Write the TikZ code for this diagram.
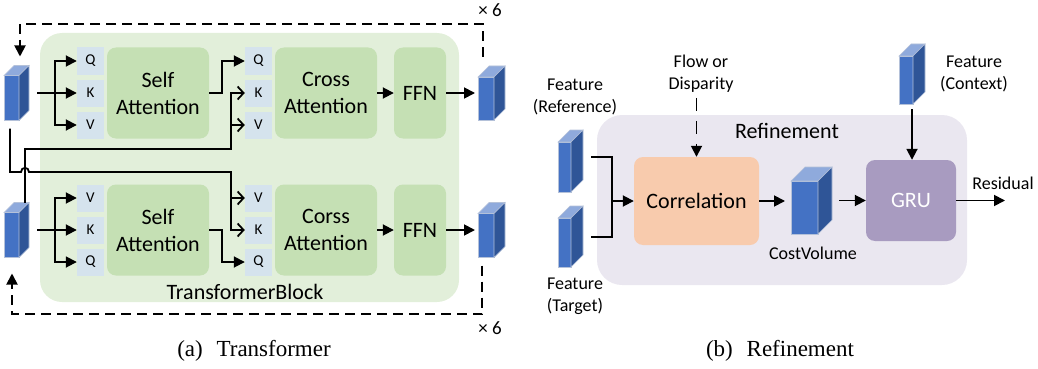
\documentclass[tikz,border=0pt]{standalone}
\usepackage{fontspec}
\setmainfont{Carlito}
\newfontfamily\capfont{Liberation Serif}
\usetikzlibrary{arrows.meta, calc}

\definecolor{blockgreen}{HTML}{E2EFDA}
\definecolor{attgreen}{HTML}{C5E0B4}
\definecolor{qkvblue}{HTML}{D5E3ED}
\definecolor{refgray}{HTML}{EAE7F0}
\definecolor{corrorange}{HTML}{F8CBAD}
\definecolor{grupurple}{HTML}{A89BC0}
\definecolor{cubefront}{HTML}{4472C4}
\definecolor{cubetop}{HTML}{8FAADC}
\definecolor{cubeside}{HTML}{2F5597}
\definecolor{cubeedge}{HTML}{B4C1D9}

\newcommand{\featcube}[6]{%
  \node(#1) at (#2,#3) [minimum width=#4pt, minimum height=#5pt, inner sep=0pt, outer sep=0pt] {};
  \filldraw[cubeedge, fill=cubefront, line width=0.6pt] (#1.south west) rectangle ($(#1.north east)+(-#6pt,-#6pt)$);
  \filldraw[cubeedge, fill=cubetop, line width=0.6pt] ($(#1.north west)+(0pt,-#6pt)$) -- ($(#1.north west)+(#6pt,0pt)$) -- (#1.north east) -- ($(#1.north east)+(-#6pt,-#6pt)$) -- cycle;
  \filldraw[cubeedge, fill=cubeside, line width=0.6pt] ($(#1.north east)+(-#6pt,-#6pt)$) -- (#1.north east) -- ($(#1.south east)+(0pt,#6pt)$) -- ($(#1.south east)+(-#6pt,0pt)$) -- cycle;
}

\begin{document}
\begin{tikzpicture}[x=1pt, y=-1pt,
   wire/.style={line width=1.8pt},
   arr/.style={wire, -{Triangle[length=11pt,width=11pt]}},
   openarr/.style={wire, -{Straight Barb[length=6pt,width=13pt]}},
   dashline/.style={wire, dash pattern=on 10pt off 6pt},
   block/.style={rounded corners=9pt, minimum height=91pt, inner sep=0pt, align=center, font=\fontsize{22}{27}\selectfont},
   qkv/.style={fill=qkvblue, minimum width=27pt, minimum height=27pt, inner sep=0pt, font=\fontsize{15}{15}\selectfont},
   textlabel/.style={align=center, inner sep=1pt, font=\fontsize{18}{22}\selectfont},
   caption/.style={font=\capfont\fontsize{23}{23}\selectfont}]
   \useasboundingbox (0,0) rectangle (1038,369);

   \node(tblock) at (249.5,167.5) [fill=blockgreen, rounded corners=22pt, minimum width=419pt, minimum height=269pt] {};
   \node(tlabel) at (245,292) [font=\fontsize{22}{22}\selectfont] {TransformerBlock};

   \featcube{A1}{16.5}{93}{25}{55}{10}
   \featcube{A2}{16.5}{230}{25}{55}{10}
   \featcube{A3}{491.5}{93}{27}{54}{11}
   \featcube{A4}{491.5}{230}{27}{55}{11}

   \node(q1) at (90.5,61) [qkv] {Q};
   \node(k1) at (90.5,93) [qkv] {K};
   \node(v1) at (90.5,125) [qkv] {V};
   \node(sa1) at (158,93) [block, fill=attgreen, minimum width=102pt] {Self\\Attention};
   \node(q2) at (258.5,61) [qkv] {Q};
   \node(k2) at (258.5,93) [qkv] {K};
   \node(v2) at (258.5,125) [qkv] {V};
   \node(ca1) at (326,93) [block, fill=attgreen, minimum width=102pt] {Cross\\Attention};
   \node(ffn1) at (420,93) [block, fill=attgreen, minimum width=52pt] {FFN};

   \node(v3) at (90.5,198) [qkv] {V};
   \node(k3) at (90.5,230) [qkv] {K};
   \node(q3) at (90.5,262) [qkv] {Q};
   \node(sa2) at (158,230) [block, fill=attgreen, minimum width=102pt] {Self\\Attention};
   \node(v4) at (258.5,198) [qkv] {V};
   \node(k4) at (258.5,230) [qkv] {K};
   \node(q4) at (258.5,262) [qkv] {Q};
   \node(ca2) at (326,230) [block, fill=attgreen, minimum width=102pt] {Corss\\Attention};
   \node(ffn2) at (420,230) [block, fill=attgreen, minimum width=52pt] {FFN};

   \coordinate(b1) at (55,93);
   \coordinate(b2) at (55,230);
   \coordinate(t1) at (222,93);
   \coordinate(t2) at (222,230);
   \coordinate(c1) at (25,149);
   \coordinate(c2) at (231,149);
   \coordinate(d1) at (10,172);
   \coordinate(d2) at (231,172);
   \coordinate(h1) at (21,172);
   \coordinate(h2) at (29,172);
   \coordinate(r1) at (483,24);
   \coordinate(r2) at (20,24);
   \coordinate(r3) at (482,314);
   \coordinate(r4) at (12,314);

   \draw [arr, shorten <=8pt] (A1) to (k1) ;
   \draw [arr] (b1) |- (q1) ;
   \draw [arr] (b1) |- (v1) ;
   \draw [arr] (sa1.east) -- (t1) |- (q2) ;
   \draw [openarr] (A2.north -| c1) -- (c1) -- (c2) |- (k2) ;
   \draw [openarr] (c2 |- v2) -- (v2) ;
   \draw [arr] (ca1) to (ffn1) ;
   \draw [arr, shorten >=3pt] (ffn1) to (A3) ;

   \draw [arr, shorten <=8pt] (A2) to (k3) ;
   \draw [arr] (b2) |- (v3) ;
   \draw [arr] (b2) |- (q3) ;
   \draw [arr] (sa2.east) -- (t2) |- (q4) ;
   \draw [openarr, shorten <=8pt] (A1.south -| d1) -- (d1) -- (h1) .. controls (21,166.5) and (29,166.5) .. (h2) -- (d2) |- (k4) ;
   \draw [openarr] (d2 |- v4) -- (v4) ;
   \draw [arr] (ca2) to (ffn2) ;
   \draw [arr, shorten >=3pt] (ffn2) to (A4) ;

   \draw [dashline, -{Triangle[length=11pt,width=11pt]}, shorten <=9pt, shorten >=9pt] (A3.north -| r1) -- (r1) -- (r2) -- (A1.north -| r2) ;
   \draw [dashline, -{Triangle[length=11pt,width=11pt]}, shorten <=8pt, shorten >=16pt] (A4.south -| r3) -- (r3) -- (r4) -- (A2.south -| r4) ;
   \node(ntop) at (490,10) [font=\fontsize{19}{19}\selectfont] {× 6};
   \node(nbot) at (490,328) [font=\fontsize{19}{19}\selectfont] {× 6};

   \node(rblock) at (782,200) [fill=refgray, rounded corners=25pt, minimum width=370pt, minimum height=170pt] {};
   \node(rlabel) at (787,131) [font=\fontsize{22}{22}\selectfont] {Refinement};

   \featcube{B1}{570.5}{161}{25}{62}{12}
   \featcube{B2}{570.5}{236.5}{25}{61}{12}
   \featcube{cost}{811.5}{200.5}{41}{67}{14}
   \featcube{ctx}{912}{74}{26}{60}{12}

   \node(fref) at (575,97) [textlabel] {Feature\\(Reference)};
   \node(ftar) at (575,296) [textlabel] {Feature\\(Target)};
   \node(flow) at (701,74) [textlabel] {Flow or\\Disparity};
   \node(fctx) at (974,74) [textlabel] {Feature\\(Context)};
   \node(costlabel) at (813,253) [textlabel] {CostVolume};
   \node(reslabel) at (1003,183) [textlabel] {Residual};

   \node(corr) at (696.5,201) [block, fill=corrorange, minimum width=125pt, minimum height=88pt] {Correlation};
   \node(gru) at (911,200.5) [block, fill=grupurple, text=white, minimum width=90pt, minimum height=81pt] {GRU};
   \coordinate(m1) at (612,157);
   \coordinate(m2) at (612,237);
   \coordinate(res) at (1005,200.5);

   \draw [wire, shorten <=8pt, shorten >=8pt] (B1.east |- m1) -- (m1) -- (m2) -- (B2.east |- m2) ;
   \draw [arr] (m1 |- corr) to (corr) ;
   \draw [dashline, dash pattern=on 13pt off 10pt, -{Triangle[length=11pt,width=11pt]}, shorten <=4pt] (corr.north |- flow.south) to (corr.north) ;
   \draw [arr, shorten >=6pt] (corr.east) to (corr.east -| cost.west) ;
   \draw [arr, shorten <=7pt] (cost) to (gru) ;
   \draw [arr, shorten <=5pt] (ctx.south) to (ctx.south |- gru.north) ;
   \draw [arr] (gru) to (res) ;

   \node(capa) at (254,351) [caption] {(a)\hspace{0.6em}Transformer};
   \node(capb) at (780,351) [caption] {(b)\hspace{0.6em}Refinement};

\end{tikzpicture}
\end{document}
